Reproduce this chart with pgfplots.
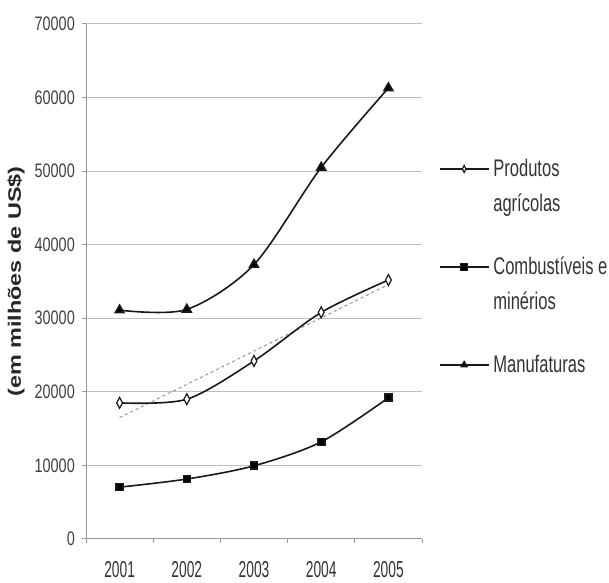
\documentclass[border=0pt]{standalone}
\usepackage{fontspec}
\setmainfont{Liberation Sans}
\newfontfamily\tickfont[FakeStretch=0.74]{Liberation Sans}
\newfontfamily\xtickfont[FakeStretch=0.6]{Liberation Sans}
\newfontfamily\legfont[FakeStretch=0.69]{Liberation Sans}
\newfontfamily\labfont[FakeStretch=1.3]{Liberation Sans}
\usepackage{pgfplots}
\pgfplotsset{compat=1.18}
\newcommand\legtwo[2]{\vtop{\baselineskip=35bp\hbox{#1}\hbox{#2}}}
\newcommand\legone[1]{#1}
\begin{document}
\begin{tikzpicture}[x=1bp,y=1bp]
\useasboundingbox (0,0) rectangle (609,583);
\begin{axis}[
  at={(86bp,44bp)}, anchor=south west,
  scale only axis, width=336bp, height=515bp,
  xmin=0.5, xmax=5.5, ymin=0, ymax=70000,
  axis x line=bottom, axis y line=left,
  axis line style={-, draw=black!40, line width=1bp},
  xtick={1,2,3,4,5}, xticklabels={2001,2002,2003,2004,2005},
  major x tick style={draw=none},
  minor xtick={0.5,1.5,2.5,3.5,4.5,5.5},
  ytick={0,10000,20000,30000,40000,50000,60000,70000},
  ymajorgrids, grid style={draw=black!25, line width=1bp},
  tick align=outside, major tick length=4bp, minor tick length=4bp,
  tick style={draw=black!40, line width=1bp},
  scaled y ticks=false,
  /pgf/number format/assume math mode=true,
  /pgf/number format/1000 sep={},
  yticklabel style={font=\tickfont\fontsize{19.5bp}{20bp}\selectfont, inner sep=0pt, xshift=-7bp, text=black!75},
  xticklabel style={font=\xtickfont\fontsize{23bp}{24bp}\selectfont, inner sep=0pt, yshift=-18bp, text=black!80},
  ylabel={(em milhões de US\$)},
  ylabel style={at={(axis description cs:-0.2083,0.5)}, anchor=center, font=\labfont\bfseries\fontsize{18bp}{20bp}\selectfont, text=black!85},
  legend style={at={(axis description cs:1.0506,0.7379)}, anchor=north west, draw=none, fill=none,
    inner sep=0pt, outer sep=0pt, row sep=0pt, column sep=4bp,
    font=\legfont\fontsize{24bp}{35bp}\selectfont, text=black!80,
    cells={anchor=base west}, nodes={inner sep=0pt, text height=18bp, text depth=80bp}},
  legend image code/.code={\draw[mark repeat=2,mark phase=2,#1, line width=1.3bp, mark size=3.5bp] plot coordinates {(0bp,8bp)(24.5bp,8bp)(49bp,8bp)};},
]
\addplot[black!50, dashed, line width=0.8bp, forget plot] coordinates {(1,16500)(5,34580)};
\addplot[black!90, line width=1.6bp, smooth, tension=0.5, mark=diamond*, mark size=5.5bp,
  mark options={fill=white, xscale=0.7, line width=1.2bp, solid}]
  coordinates {(1,18500)(2,19000)(3,24200)(4,30800)(5,35200)};
\addlegendentry{\legtwo{Produtos}{agrícolas}}
\addplot[black!90, line width=1.6bp, smooth, tension=0.5, mark=square*, mark size=3.5bp,
  mark options={fill=black, solid}]
  coordinates {(1,7050)(2,8150)(3,9950)(4,13200)(5,19200)};
\addlegendentry{\legtwo{Combustíveis e}{minérios}}
\addplot[black!90, line width=1.6bp, smooth, tension=0.5, mark=triangle*, mark size=5bp,
  mark options={fill=black, solid}]
  coordinates {(1,31100)(2,31200)(3,37300)(4,50500)(5,61300)};
\addlegendentry{\legone{Manufaturas}}
\end{axis}
\end{tikzpicture}
\end{document}
